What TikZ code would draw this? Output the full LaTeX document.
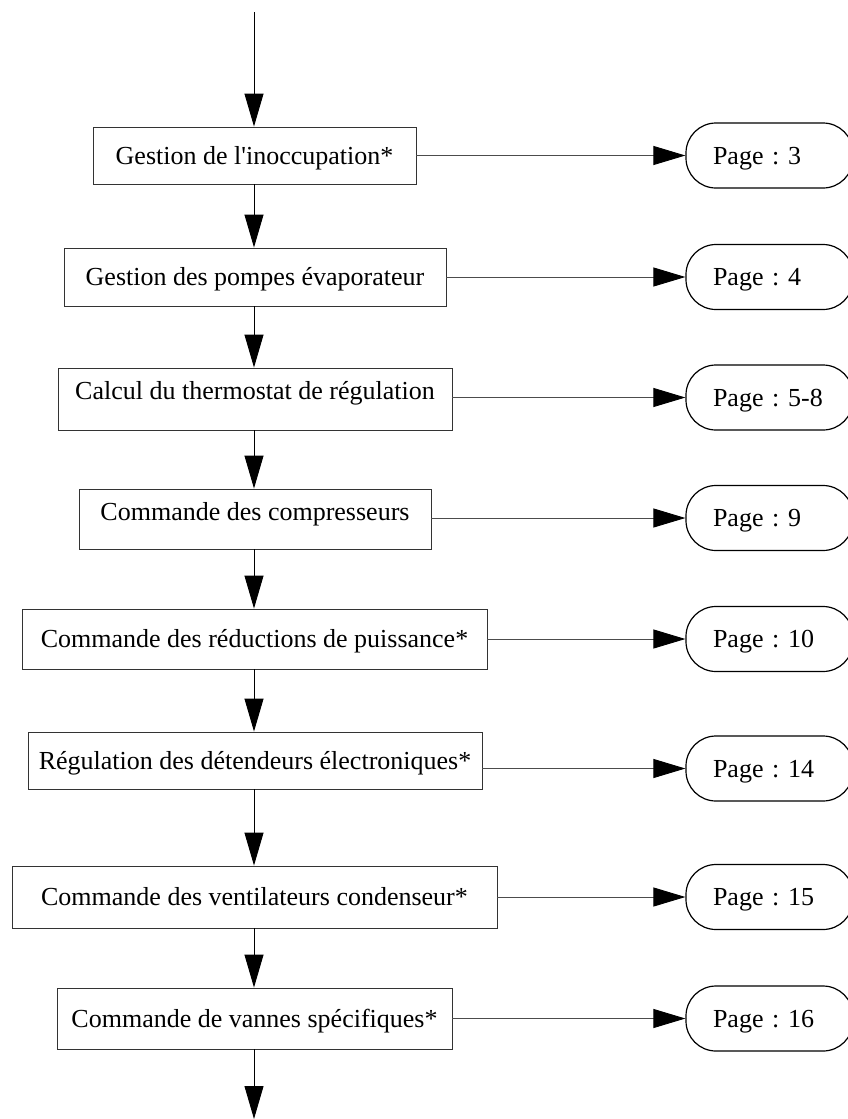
\documentclass[tikz,border=0pt]{standalone}
\usepackage{fontspec}
\setmainfont{Liberation Serif}
\usetikzlibrary{arrows.meta}
\begin{document}
\frenchspacing
\begin{tikzpicture}[x=1pt,y=-1pt,
  txt/.style={font=\fontsize{26pt}{30pt}\selectfont},
  procbox/.style={txt, draw=black!80, line width=0.9pt, rectangle, inner sep=0pt,
    text height=18pt, text depth=0.6pt},
  pagebox/.style={txt, draw=black, line width=1.2pt, rounded corners=30pt,
    minimum width=167pt, minimum height=65pt, inner xsep=27pt, inner ysep=0pt,
    text width=113pt, align=left, text height=18pt, text depth=0.6pt},
  flow/.style={draw=black, line width=1pt, -{Triangle[length=33pt,width=19pt]}},
  link/.style={draw=black!70, line width=0.9pt, -{Triangle[length=32pt,width=19pt,color=black]}}
]
\useasboundingbox (0,0) rectangle (848,1119);
\clip (0,0) rectangle (848,1119);

% process boxes
\node[procbox, minimum width=323pt, minimum height=57pt] (b1) at (254.5,155.5) {Gestion de l\textquotesingle inoccupation*};
\node[procbox, minimum width=382pt, minimum height=58pt] (b2) at (255,277) {Gestion des pompes évaporateur};
\node[procbox, minimum width=394pt, minimum height=62pt, text depth=17.4pt] (b3) at (255,399) {Calcul du thermostat de régulation};
\node[procbox, minimum width=352pt, minimum height=60pt, text depth=16pt] (b4) at (255,519) {Commande des compresseurs};
\node[procbox, minimum width=465pt, minimum height=60pt] (b5) at (254.5,639) {Commande des réductions de puissance*};
\node[procbox, minimum width=454pt, minimum height=57pt] (b6) at (255,760.5) {Régulation des détendeurs électroniques*};
\node[procbox, minimum width=485pt, minimum height=62pt] (b7) at (254.5,897) {Commande des ventilateurs condenseur*};
\node[procbox, minimum width=395pt, minimum height=61pt] (b8) at (254.5,1018.5) {Commande de vannes spécifiques*};

% page references
\node[pagebox] (p3)  at (769.5,155.5) {Page : 3};
\node[pagebox] (p4)  at (769.5,277)   {Page : 4};
\node[pagebox] (p5)  at (769.5,397.5) {Page : 5-8};
\node[pagebox] (p9)  at (769.5,518)   {Page : 9};
\node[pagebox] (p10) at (769.5,639)   {Page : 10};
\node[pagebox] (p14) at (769.5,768.5) {Page : 14};
\node[pagebox] (p15) at (769.5,897)   {Page : 15};
\node[pagebox] (p16) at (769.5,1018.5) {Page : 16};

% vertical flow
\coordinate (axis) at (254,0);
\coordinate (start) at (254,12);
\coordinate (finish) at (254,1119);
\draw[flow] (start) -- (b1.north -| axis);
\draw[flow] (b1.south -| axis) -- (b2.north -| axis);
\draw[flow] (b2.south -| axis) -- (b3.north -| axis);
\draw[flow] (b3.south -| axis) -- (b4.north -| axis);
\draw[flow] (b4.south -| axis) -- (b5.north -| axis);
\draw[flow] (b5.south -| axis) -- (b6.north -| axis);
\draw[flow] (b6.south -| axis) -- (b7.north -| axis);
\draw[flow] (b7.south -| axis) -- (b8.north -| axis);
\draw[flow] (b8.south -| axis) -- (finish);

% links to pages
\draw[link] (b1.east |- p3.west)  -- (p3.west);
\draw[link] (b2.east |- p4.west)  -- (p4.west);
\draw[link] (b3.east |- p5.west)  -- (p5.west);
\draw[link] (b4.east |- p9.west)  -- (p9.west);
\draw[link] (b5.east |- p10.west) -- (p10.west);
\draw[link] (b6.east |- p14.west) -- (p14.west);
\draw[link] (b7.east |- p15.west) -- (p15.west);
\draw[link] (b8.east |- p16.west) -- (p16.west);
\end{tikzpicture}
\end{document}
